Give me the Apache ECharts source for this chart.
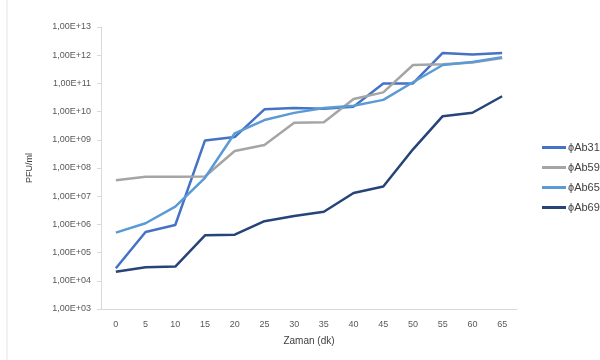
<!DOCTYPE html>
<html>
<head>
<meta charset="utf-8">
<script src="https://cdn.jsdelivr.net/npm/echarts@6/dist/echarts.min.js"></script>
<style>
  html, body { margin: 0; padding: 0; background: #fff; }
  #chart { width: 600px; height: 360px; }
</style>
</head>
<body>
<div id="chart"></div>
<script>
// time points (min)
var zaman = ['0', '5', '10', '15', '20', '25', '30', '35', '40', '45', '50', '55', '60', '65']

// PFU/ml
var ab31 = [2.8e4, 5.4e5, 9.5e5, 9.5e8, 1.25e9, 1.2e10, 1.35e10, 1.25e10, 1.5e10, 1.0e11, 1.0e11, 1.2e12, 1.05e12, 1.2e12]
var ab59 = [3.7e7, 4.9e7, 4.9e7, 5.0e7, 4.0e8, 6.5e8, 4.0e9, 4.2e9, 2.8e10, 4.8e10, 4.5e11, 4.8e11, 5.5e11, 7.9e11]
var ab65 = [5.1e5, 1.1e6, 4.3e6, 4.5e7, 1.7e9, 5.0e9, 9.0e9, 1.35e10, 1.6e10, 2.6e10, 1.1e11, 4.5e11, 5.7e11, 8.5e11]
var ab69 = [2.1e4, 3.0e4, 3.2e4, 4.1e5, 4.3e5, 1.3e6, 2.0e6, 2.8e6, 1.3e7, 2.2e7, 4.6e8, 6.9e9, 9.1e9, 3.5e10]

var names = ['ϕAb31', 'ϕAb59', 'ϕAb65', 'ϕAb69']
var colors = ['#4472C4', '#A5A5A5', '#5B9BD5', '#264478']

// y tick labels, Excel style
function expLabel (v) {
  var e = Math.round(Math.log10(v))
  return '1,00E+' + (e < 10 ? '0' + e : e)
}

var chart = echarts.init(document.getElementById('chart'))

function line (name, data, color) {
  return {
    name: name,
    type: 'line',
    data: data,
    symbol: 'none',
    lineStyle: { width: 2.5, color: color },
    itemStyle: { color: color }
  }
}

var option = {
  animation: false,
  textStyle: { fontFamily: 'Liberation Sans, Arial, sans-serif' },
  graphic: [{
    type: 'line',
    shape: { x1: 7, y1: 0, x2: 7, y2: 360 },
    style: { stroke: '#e3e3e3', lineWidth: 1 }
  }],
  grid: { left: 101, right: 83, top: 27, bottom: 51 },
  legend: {
    orient: 'vertical',
    left: 537,
    top: 137,
    itemGap: 9,
    itemWidth: 24,
    itemHeight: 3,
    icon: 'rect',
    data: names,
    textStyle: { color: '#404040', fontSize: 11, padding: [0, 0, 0, -3] }
  },
  xAxis: {
    type: 'category',
    data: zaman,
    name: 'Zaman (dk)',
    nameLocation: 'middle',
    nameGap: 27,
    nameTextStyle: { color: '#404040', fontSize: 10 },
    axisLine: { lineStyle: { color: '#d9d9d9', width: 1 } },
    axisTick: { show: false },
    axisLabel: { color: '#595959', fontSize: 9, margin: 11 }
  },
  yAxis: {
    type: 'log',
    logBase: 10,
    min: 1e3,
    max: 1e13,
    name: 'PFU/ml',
    nameLocation: 'middle',
    nameGap: 67,
    nameRotate: 90,
    nameTextStyle: { color: '#404040', fontSize: 9 },
    axisLine: { show: true, lineStyle: { color: '#d9d9d9' } },
    axisTick: { show: true, length: 4, lineStyle: { color: '#d9d9d9' } },
    splitLine: { show: false },
    axisLabel: { color: '#595959', fontSize: 9, margin: 10, formatter: expLabel }
  },
  series: [
    line(names[0], ab31, colors[0]),
    line(names[1], ab59, colors[1]),
    line(names[2], ab65, colors[2]),
    line(names[3], ab69, colors[3])
  ]
}

chart.setOption(option)
</script>
</body>
</html>
